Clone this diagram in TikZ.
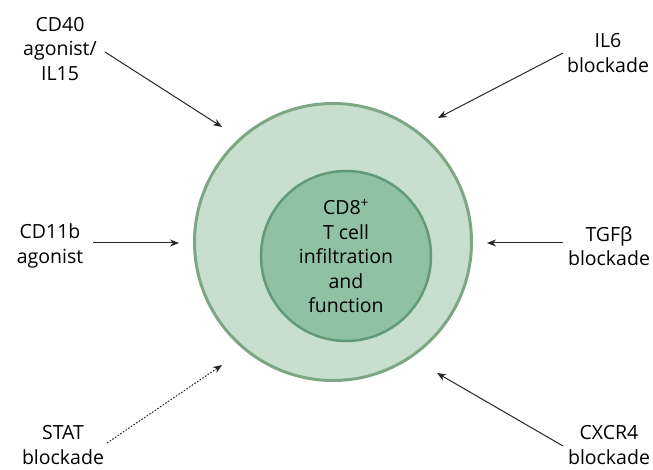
\documentclass[tikz,border=0pt]{standalone}
\usepackage{fontspec}
\setmainfont{Open Sans}
\usetikzlibrary{arrows.meta}
\definecolor{outerfill}{RGB}{201,223,206}
\definecolor{outerdraw}{RGB}{125,167,130}
\definecolor{innerfill}{RGB}{143,193,162}
\definecolor{innerdraw}{RGB}{96,154,118}
\begin{document}
\begin{tikzpicture}[x=1pt,y=-1pt,
  lbl/.style={align=center,font=\fontsize{19.5}{24.5}\selectfont,inner sep=2pt},
  arr/.style={-{Stealth[length=9pt,width=7pt]},line width=1pt,draw=black!85}]
\useasboundingbox (0,0) rectangle (653,470);
\node[circle,fill=outerfill,draw=outerdraw,line width=3pt,minimum size=277pt,inner sep=0] (outer) at (333,242) {};
\node[circle,fill=innerfill,draw=innerdraw,line width=2.5pt,minimum size=170pt,inner sep=0,lbl] (inner) at (346,256) {CD8\textsuperscript{+}\\T cell\\infiltration\\and\\function};

\node[lbl] (cd40) at (60,49) {CD40\\agonist/\\IL15};
\node[lbl] (il6) at (608,53) {IL6\\blockade};
\node[lbl] (cd11) at (50,246) {CD11b\\agonist};
\node[lbl] (tgf) at (609,246) {TGFβ\\blockade};
\node[lbl] (stat) at (63,445) {STAT\\blockade};
\node[lbl] (cxcr) at (609,445) {CXCR4\\blockade};

\coordinate (s1) at (105,52);  \coordinate (t1) at (222,127);
\coordinate (s2) at (563,53);  \coordinate (t2) at (438,118);
\coordinate (s3) at (93,243);  \coordinate (t3) at (179,243);
\coordinate (s4) at (563,243); \coordinate (t4) at (487,243);
\coordinate (s5) at (107,443); \coordinate (t5) at (222,365);
\coordinate (s6) at (563,446); \coordinate (t6) at (437,373);

\draw[arr] (s1) -- (t1);
\draw[arr] (s2) -- (t2);
\draw[arr] (s3) -- (t3);
\draw[arr] (s4) -- (t4);
\draw[arr,dash pattern=on 1.6pt off 1.6pt] (s5) -- (t5);
\draw[arr] (s6) -- (t6);
\end{tikzpicture}
\end{document}
